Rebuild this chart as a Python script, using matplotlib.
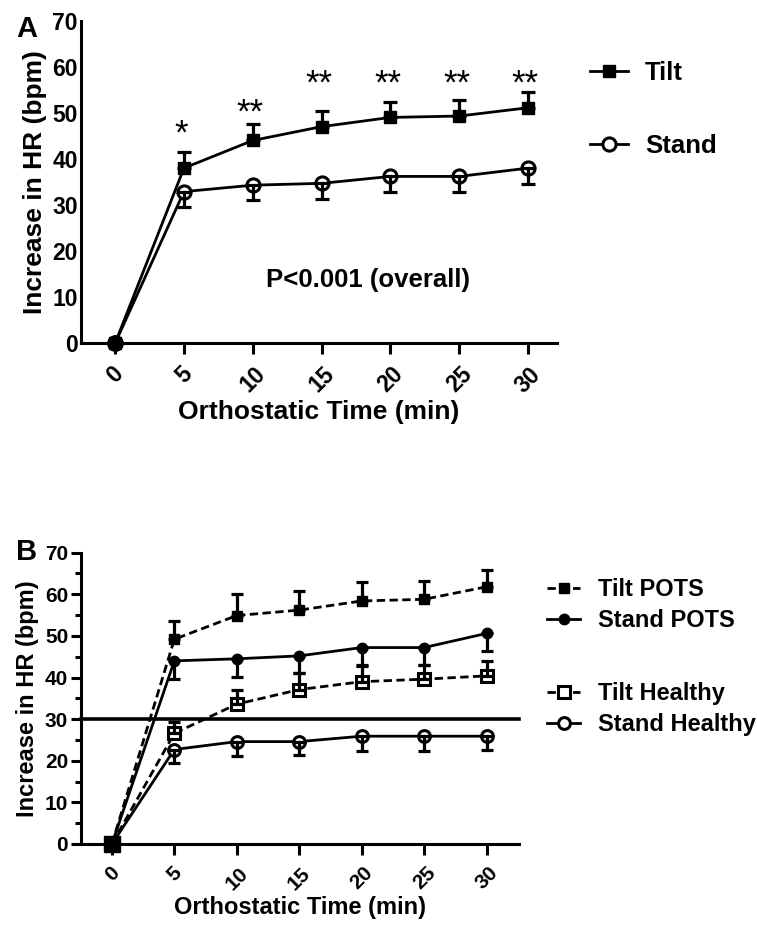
import matplotlib
matplotlib.use('Agg')
import matplotlib.pyplot as plt
import numpy as np

plt.rcParams['font.family'] = ['Liberation Sans', 'DejaVu Sans']
plt.rcParams['font.weight'] = 'bold'

# time points (min)
t = [0, 5, 10, 15, 20, 25, 30]

# panel A
tilt_a = [0, 38.0, 44.0, 47.0, 49.0, 49.3, 51.1]
tilt_a_err = [0, 3.4, 3.6, 3.5, 3.4, 3.4, 3.4]
stand_a = [0, 32.9, 34.3, 34.7, 36.2, 36.2, 38.0]
stand_a_err = [0, 3.4, 3.2, 3.4, 3.4, 3.4, 3.4]
stars = ['*', '**', '**', '**', '**', '**']
star_y = [45.9, 50.6, 56.8, 56.8, 56.8, 56.8]

# panel B
tilt_pots = [0, 49.2, 54.9, 56.2, 58.4, 58.8, 61.8]
tilt_pots_err = [0, 4.4, 5.1, 4.6, 4.6, 4.5, 4.0]
stand_pots = [0, 44.0, 44.5, 45.2, 47.2, 47.2, 50.6]
stand_pots_err = [0, 4.4, 4.3, 4.2, 4.2, 4.2, 4.2]
tilt_healthy = [0, 26.6, 33.6, 37.1, 39.0, 39.6, 40.4]
tilt_healthy_err = [0, 2.8, 3.4, 3.9, 3.8, 3.4, 3.6]
stand_healthy = [0, 22.7, 24.6, 24.6, 25.9, 25.9, 25.9]
stand_healthy_err = [0, 3.3, 3.4, 3.2, 3.5, 3.5, 3.3]
threshold = 30

dash = (0, (3.0, 1.6))


def errbars(ax, x, y, e, up, cs, zo=4):
    x = np.array(x[1:]); y = np.array(y[1:]); e = np.array(e[1:])
    z = np.zeros_like(e)
    yerr = [z, e] if up else [e, z]
    ax.errorbar(x, y, yerr=yerr, fmt='none', ecolor='black', elinewidth=2.3,
                capsize=cs, capthick=2.3, zorder=zo, clip_on=False)


def style(ax, xmax, tick_fs, ylen):
    for s in ['top', 'right']:
        ax.spines[s].set_visible(False)
    for s in ['left', 'bottom']:
        ax.spines[s].set_linewidth(2.2)
    ax.set_xlim(-2.5, xmax)
    ax.set_ylim(0, 70)
    ax.set_xticks(t)
    ax.set_yticks(range(0, 71, 10))
    ax.tick_params(axis='x', length=8, width=2.2, pad=6, labelsize=tick_fs,
                   labelrotation=45)
    ax.tick_params(axis='y', length=ylen, width=2.2, pad=2, labelsize=tick_fs)


fig = plt.figure(figsize=(7.57, 9.25), dpi=100)

# ---------- A ----------
axA = fig.add_axes([0.1066, 0.6289, 0.6292, 0.3488])
lt, = axA.plot(t, tilt_a, '-', color='black', lw=2, marker='s', ms=9,
               mfc='black', mec='black', clip_on=False, zorder=3, label='Tilt')
ls, = axA.plot(t, stand_a, '-', color='black', lw=2, marker='o', ms=9.5,
               mfc='white', mec='black', mew=2.2, clip_on=False, zorder=3,
               label='Stand')
errbars(axA, t, tilt_a, tilt_a_err, True, 4.8)
errbars(axA, t, stand_a, stand_a_err, False, 4.8)
axA.plot([0], [0], 'o', color='black', ms=11, clip_on=False, zorder=5)
for xi, s, yi in zip(t[1:], stars, star_y):
    axA.text(xi - 0.2, yi - 0.6, s, ha='center', va='center', fontsize=25,
             fontweight='normal')
axA.text(18.4, 13.7, 'P<0.001 (overall)', ha='center', va='center',
         fontsize=18.5, fontweight='bold')
style(axA, 32.1, 16.5, 0)
axA.set_xlabel('Orthostatic Time (min)', fontsize=19, fontweight='bold',
               labelpad=2)
axA.set_ylabel('Increase in HR (bpm)', fontsize=19, fontweight='bold',
               labelpad=4)
fig.legend(handles=[lt, ls], loc='center left',
           bbox_to_anchor=(0.779, 1 - 109.5 / 925), frameon=False,
           fontsize=18.5, handlelength=1.5, handletextpad=0.65,
           labelspacing=1.9, borderpad=0, borderaxespad=0)
fig.text(0.021, 1 - 29 / 925, 'A', fontsize=21, fontweight='bold',
         va='center', ha='left')

# ---------- B ----------
axB = fig.add_axes([0.1066, 0.0876, 0.579, 0.3149])
axB.plot([-2.5, 32.6], [threshold, threshold], color='black', lw=2.6,
         zorder=2, clip_on=False)
b1, = axB.plot(t, tilt_pots, color='black', lw=2, ls=dash, marker='s',
               ms=7.5, mfc='black', mec='black', clip_on=False, zorder=3,
               label='Tilt POTS')
b2, = axB.plot(t, stand_pots, color='black', lw=2, ls='-', marker='o',
               ms=7.5, mfc='black', mec='black', clip_on=False, zorder=3,
               label='Stand POTS')
b3, = axB.plot(t, tilt_healthy, color='black', lw=2, ls=dash, marker='s',
               ms=8, mfc='white', mec='black', mew=2.2, clip_on=False,
               zorder=3, label='Tilt Healthy')
b4, = axB.plot(t, stand_healthy, color='black', lw=2, ls='-', marker='o',
               ms=8.5, mfc='white', mec='black', mew=2.2, clip_on=False,
               zorder=3, label='Stand Healthy')
errbars(axB, t, tilt_pots, tilt_pots_err, True, 4.5)
errbars(axB, t, stand_pots, stand_pots_err, False, 4.5)
errbars(axB, t, tilt_healthy, tilt_healthy_err, True, 4.5)
errbars(axB, t, stand_healthy, stand_healthy_err, False, 4.5)
axB.plot([0], [0], 's', color='black', ms=11, clip_on=False, zorder=5)
style(axB, 32.6, 15, 7)
axB.set_yticks(range(5, 70, 10), minor=True)
axB.tick_params(axis='y', which='minor', length=4, width=2.2)
axB.set_xlabel('Orthostatic Time (min)', fontsize=17, fontweight='bold',
               labelpad=2)
axB.set_ylabel('Increase in HR (bpm)', fontsize=17, fontweight='bold',
               labelpad=4)
fig.legend(handles=[b1, b2], loc='center left',
           bbox_to_anchor=(0.7226, 1 - 605 / 925), frameon=False,
           fontsize=17, handlelength=1.4, handletextpad=0.75,
           labelspacing=0.35, borderpad=0, borderaxespad=0)
fig.legend(handles=[b3, b4], loc='center left',
           bbox_to_anchor=(0.7226, 1 - 709 / 925), frameon=False,
           fontsize=17, handlelength=1.4, handletextpad=0.75,
           labelspacing=0.35, borderpad=0, borderaxespad=0)
fig.text(0.021, 1 - 552 / 925, 'B', fontsize=21, fontweight='bold',
         va='center', ha='left')

fig.savefig('out.png', dpi=100)
